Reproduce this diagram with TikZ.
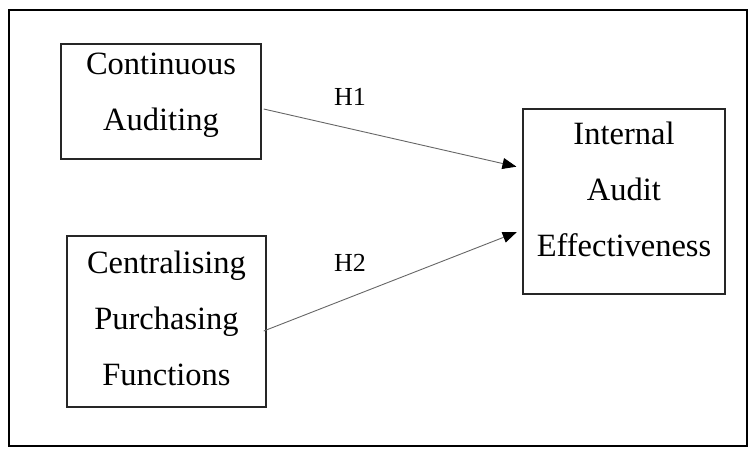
\documentclass[tikz,border=0pt]{standalone}
\usepackage{fontspec}
\setmainfont{Liberation Serif}
\usetikzlibrary{arrows.meta}
\tikzset{
  box/.style={draw=black!85, line width=1.4pt, rectangle, inner sep=0pt},
  boxtext/.style={align=center, font=\fontsize{32.5}{56}\selectfont, inner sep=0pt},
  hlabel/.style={font=\fontsize{26}{30}\selectfont, inner sep=0pt},
  arr/.style={draw=black!60, line width=0.9pt, -{Triangle[length=14pt,width=11pt,fill=black,color=black]}, shorten >=6pt}
}
\begin{document}
\begin{tikzpicture}[x=1pt,y=-1pt]
\useasboundingbox (0,0) rectangle (750,448);
\draw[line width=1.5pt] (9,10) rectangle (747,446);
\node[box, minimum width=200pt, minimum height=115pt] (b1) at (161,101.5) {};
\node[box, minimum width=199pt, minimum height=171pt] (b2) at (166.5,321.5) {};
\node[box, minimum width=202pt, minimum height=185pt] (b3) at (624,201.5) {};
\node[boxtext] (t1) at (161,95) {Continuous\\Auditing};
\node[boxtext] (t2) at (166.5,318) {Centralising\\Purchasing\\Functions};
\node[boxtext] (t3) at (624,189.5) {Internal\\Audit\\Effectiveness};
\draw[arr] ([xshift=2pt,yshift=-7.5pt]b1.east) -- ([yshift=33.5pt]b3.west);
\draw[arr] ([xshift=-3pt,yshift=-9.5pt]b2.east) -- ([yshift=-28.5pt]b3.west);
\node[hlabel] (h1) at (350,97) {H1};
\node[hlabel] (h2) at (350,263) {H2};
\end{tikzpicture}
\end{document}
